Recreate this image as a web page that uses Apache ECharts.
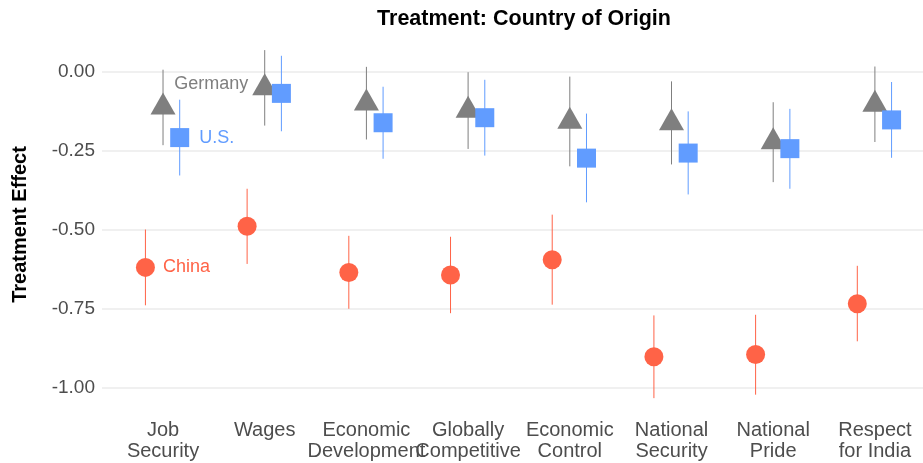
<!DOCTYPE html>
<html>
<head>
<meta charset="utf-8">
<script src="https://cdn.jsdelivr.net/npm/echarts@6/dist/echarts.min.js"></script>
<style>
  html, body { margin: 0; padding: 0; background: #fff; }
  #chart { width: 923px; height: 463px; }
</style>
</head>
<body>
<div id="chart"></div>
<script>
// categories (x axis)
const categories = ['Job\nSecurity', 'Wages', 'Economic\nDevelopment', 'Globally\nCompetitive',
  'Economic\nControl', 'National\nSecurity', 'National\nPride', 'Respect\nfor India'];
const yTicks = [-1, -0.75, -0.5, -0.25, 0];

// China: estimate, lower and upper bound
const chinaEst = [-0.620, -0.490, -0.636, -0.644, -0.596, -0.903, -0.896, -0.735];
const chinaLo  = [-0.740, -0.609, -0.751, -0.765, -0.738, -1.034, -1.023, -0.854];
const chinaHi  = [-0.500, -0.371, -0.520, -0.523, -0.453, -0.772, -0.770, -0.615];

// Germany
const germanyEst = [-0.113, -0.052, -0.100, -0.123, -0.158, -0.163, -0.223, -0.104];
const germanyLo  = [-0.233, -0.171, -0.215, -0.245, -0.300, -0.294, -0.350, -0.223];
const germanyHi  = [ 0.006,  0.068,  0.015, -0.002, -0.016, -0.031, -0.097,  0.016];

// U.S.
const usEst = [-0.209, -0.069, -0.162, -0.146, -0.274, -0.258, -0.244, -0.153];
const usLo  = [-0.329, -0.189, -0.276, -0.266, -0.414, -0.389, -0.371, -0.273];
const usHi  = [-0.089,  0.050, -0.048, -0.026, -0.133, -0.126, -0.118, -0.033];

const FONT = 'Liberation Sans';
const chart = echarts.init(document.getElementById('chart'));

// dodge so the three countries sit side by side
function pts(est, dodge) {
  return est.map((v, i) => [i + 1 + dodge, v]);
}
function bars(lo, hi, dodge) {
  return lo.map((v, i) => [i + 1 + dodge, v, hi[i]]);
}
function errSeries(lo, hi, dodge, color) {
  return {
    type: 'custom',
    silent: true,
    z: 1,
    data: bars(lo, hi, dodge),
    encode: { x: 0, y: [1, 2] },
    renderItem: function (params, api) {
      const a = api.coord([api.value(0), api.value(1)]);
      const b = api.coord([api.value(0), api.value(2)]);
      return {
        type: 'line',
        shape: { x1: a[0], y1: a[1], x2: b[0], y2: b[1] },
        style: { stroke: color, lineWidth: 1 }
      };
    }
  };
}

const cChina = '#FF6347', cGermany = '#7F7F7F', cUS = '#619CFF';

const option = {
  animation: false,
  title: {
    text: 'Treatment: Country of Origin',
    left: 519,
    top: 3,
    textAlign: 'center',
    textStyle: { fontFamily: FONT, fontSize: 21.5, fontWeight: 'bold', color: '#000' }
  },
  // panel runs past the right edge in the original, so the x range is cut there
  grid: { left: 102, top: 40, right: 0, height: 379, containLabel: false },
  xAxis: {
    type: 'value',
    min: 0.4,
    max: 8.473,
    axisLine: { show: false },
    axisTick: { show: false },
    splitLine: { show: false },
    axisLabel: {
      customValues: [1, 2, 3, 4, 5, 6, 7, 8],
      formatter: v => categories[Math.round(v) - 1],
      fontFamily: FONT,
      fontSize: 20,
      lineHeight: 21,
      color: '#4D4D4D',
      margin: 1
    }
  },
  yAxis: {
    type: 'value',
    min: -1.1,
    max: 0.1,
    name: 'Treatment Effect',
    nameLocation: 'middle',
    nameRotate: 90,
    nameGap: 72,
    nameTextStyle: { fontFamily: FONT, fontSize: 20, fontWeight: 'bold', color: '#000', padding: [0, 0, 0, 10] },
    axisLine: { show: false },
    axisTick: { show: false, customValues: yTicks },
    splitLine: { show: true, lineStyle: { color: '#EBEBEB', width: 1.5 } },
    axisLabel: {
      customValues: yTicks,
      formatter: v => v.toFixed(2),
      fontFamily: FONT,
      fontSize: 19,
      color: '#4D4D4D',
      margin: 7
    }
  },
  series: [
    errSeries(chinaLo, chinaHi, -0.173, cChina),
    errSeries(germanyLo, germanyHi, 0, cGermany),
    errSeries(usLo, usHi, 0.164, cUS),
    {
      type: 'scatter', name: 'China', z: 3,
      symbol: 'circle', symbolSize: 19,
      itemStyle: { color: cChina, opacity: 1 },
      data: pts(chinaEst, -0.173).map((p, i) => i === 0 ? {
        value: p,
        label: { show: true, position: 'right', distance: 8, formatter: 'China',
          color: cChina, fontFamily: FONT, fontSize: 18 }
      } : p)
    },
    {
      type: 'scatter', name: 'Germany', z: 3,
      symbol: 'triangle', symbolSize: [25, 22], symbolOffset: [0, -3.7],
      itemStyle: { color: cGermany, opacity: 1 },
      data: pts(germanyEst, 0).map((p, i) => i === 1 ? {
        value: p,
        label: { show: true, position: 'left', distance: 4, formatter: 'Germany',
          color: cGermany, fontFamily: FONT, fontSize: 18 }
      } : p)
    },
    {
      type: 'scatter', name: 'U.S.', z: 4,
      symbol: 'rect', symbolSize: 19,
      itemStyle: { color: cUS, opacity: 1 },
      data: pts(usEst, 0.164).map((p, i) => i === 0 ? {
        value: p,
        label: { show: true, position: 'right', distance: 10, formatter: 'U.S.',
          color: cUS, fontFamily: FONT, fontSize: 18 }
      } : p)
    }
  ]
};

chart.setOption(option);
</script>
</body>
</html>
